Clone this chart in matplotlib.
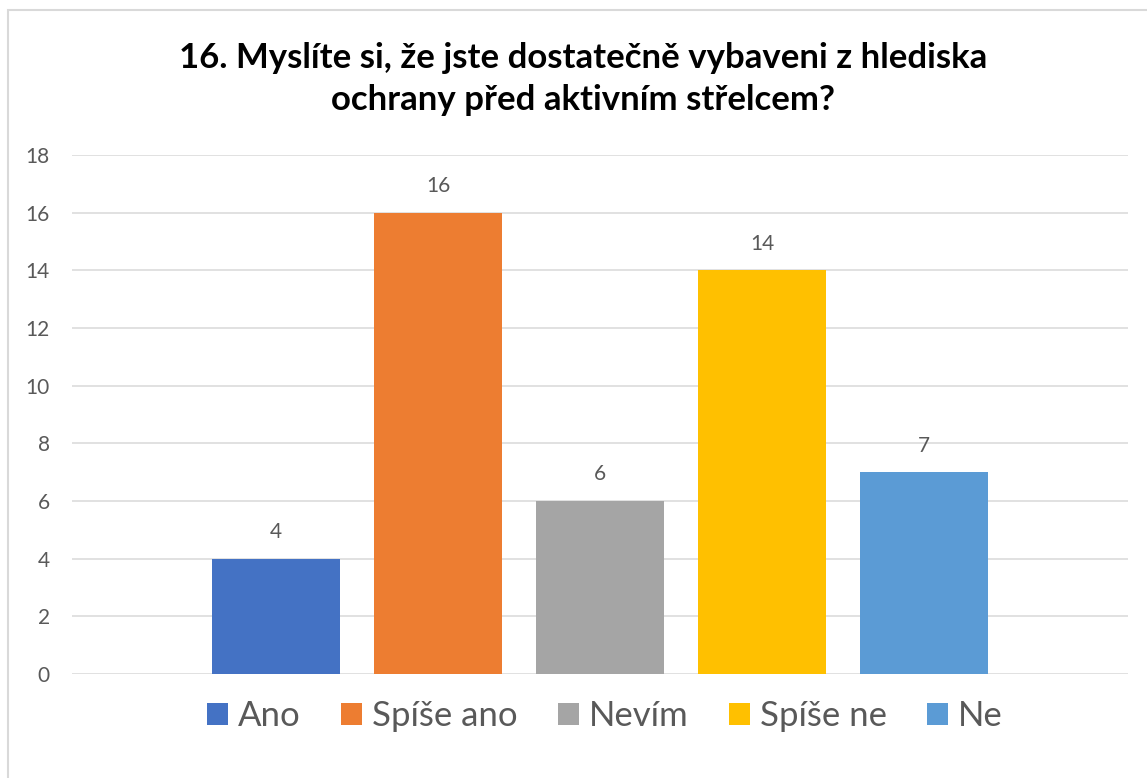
import matplotlib
matplotlib.use("Agg")
import matplotlib.pyplot as plt
from matplotlib.patches import Patch, Rectangle

categories = ["Ano", "Spíše ano", "Nevím", "Spíše ne", "Ne"]
values = [4, 16, 6, 14, 7]
colors = ["#4472C4", "#ED7D31", "#A5A5A5", "#FFC000", "#5B9BD5"]
yticks = [0, 2, 4, 6, 8, 10, 12, 14, 16, 18]
title = "16. Myslíte si, že jste dostatečně vybaveni z hlediska\nochrany před aktivním střelcem?"

plt.rcParams["font.family"] = ["Lato", "DejaVu Sans"]
TEXT = "#595959"
GRID = "#D9D9D9"

W, H = 1147, 778
fig = plt.figure(figsize=(W / 100, H / 100), dpi=100)

# chart-area border
fig.patches.append(Rectangle((8 / W, -0.1), 1.2, 1 - 10 / H + 0.1,
                             transform=fig.transFigure, fill=False,
                             edgecolor=GRID, linewidth=1.5))

ax = fig.add_axes([72 / W, 1 - 674 / H, (1128 - 72) / W, (674 - 155) / H])

x = list(range(len(categories)))
bars = ax.bar(x, values, width=0.79, color=colors, zorder=3)
ax.bar_label(bars, labels=[str(v) for v in values], padding=12,
             fontsize=15, color=TEXT)

ax.set_xlim(-1.259, 5.259)
ax.set_ylim(0, 18)
ax.set_yticks(yticks)
ax.set_xticks([])
ax.tick_params(axis="y", length=0, pad=16, labelsize=15, labelcolor=TEXT)
ax.grid(axis="y", color=GRID, linewidth=1.1, zorder=0)
ax.set_axisbelow(True)
for s in ax.spines.values():
    s.set_visible(False)

fig.text(0.508, 1 - 79 / H, title, ha="center", va="center",
         fontsize=25, fontweight="bold", color="black", linespacing=1.36)

handles = [Patch(facecolor=c, edgecolor="none") for c in colors]
fig.legend(handles, categories, loc="center", bbox_to_anchor=(605 / W, 1 - 716 / H),
           ncol=5, frameon=False, fontsize=25, labelcolor=TEXT,
           handlelength=0.6, handleheight=0.6, handletextpad=0.3,
           columnspacing=1.15, borderpad=0)

fig.savefig("out.png", dpi=100)
